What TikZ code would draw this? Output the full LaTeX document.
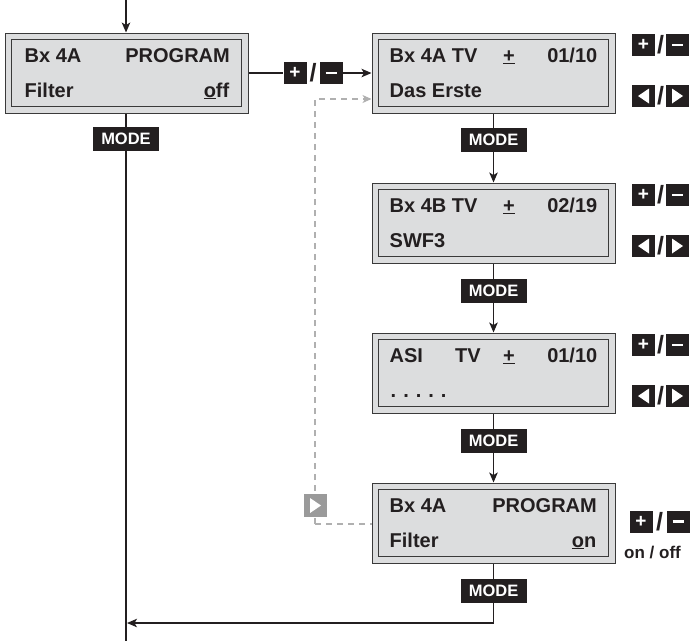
\documentclass[tikz,border=0pt]{standalone}
\usepackage{fontspec}
\setmainfont{Liberation Sans}
\usetikzlibrary{arrows.meta,backgrounds}
\definecolor{ink}{HTML}{231F20}
\definecolor{lcd}{HTML}{DCDDDE}
\definecolor{framec}{HTML}{3A3A3A}
\definecolor{dashc}{HTML}{B0B0B0}
\definecolor{playc}{HTML}{9A9A9A}
\begin{document}
\begin{tikzpicture}[x=1pt,y=-1pt,
  lcdbox/.style={draw=framec, line width=1pt, double=lcd, double distance=5.5pt, fill=lcd,
    minimum width=236.5pt, minimum height=73.5pt, inner sep=0pt, outer sep=3.75pt},
  txt/.style={font=\fontsize{20}{22}\selectfont\bfseries, text=ink, inner sep=0pt},
  modekey/.style={fill=ink, text=white, font=\fontsize{16.5}{18}\selectfont\bfseries,
    minimum width=66pt, minimum height=24pt, inner sep=0pt},
  key/.style={fill=ink, text=white, minimum width=23pt, minimum height=22pt, inner sep=0pt,
    font=\fontsize{19}{20}\selectfont\bfseries},
  slash/.style={text=ink, inner sep=0pt, font=\fontsize{25}{26}\selectfont\bfseries},
  leftkey/.style={key, path picture={\fill[white]
    ([xshift=-5.5pt]path picture bounding box.center) --
    ([shift={(5.5pt,-7.5pt)}]path picture bounding box.center) --
    ([shift={(5.5pt,7.5pt)}]path picture bounding box.center) -- cycle;}},
  rightkey/.style={key, path picture={\fill[white]
    ([xshift=5.5pt]path picture bounding box.center) --
    ([shift={(-5.5pt,-7.5pt)}]path picture bounding box.center) --
    ([shift={(-5.5pt,7.5pt)}]path picture bounding box.center) -- cycle;}},
  playkey/.style={rightkey, fill=playc, minimum height=23pt},
  conn/.style={draw=ink, line width=1.2pt},
  arr/.style={-{Stealth[length=10pt,width=8.5pt,inset=2.5pt]}},
  dashline/.style={draw=dashc, line width=1.2pt, dash pattern=on 6pt off 5pt},
]
\useasboundingbox (0,0) rectangle (693,641);

% LCD boxes
\node[lcdbox] (b1) at (126.5,73) {};
\node[lcdbox] (b2) at (493.5,73) {};
\node[lcdbox] (b3) at (493.5,223) {};
\node[lcdbox] (b4) at (493.5,373) {};
\node[lcdbox] (b5) at (493.5,523) {};

% texts box 1
\node[txt, anchor=base west] (t1a) at ([shift={(20,-11)}]b1.west) {Bx 4A};
\node[txt, anchor=base east] (t1b) at ([shift={(-18.5,-11)}]b1.east) {PROGRAM};
\node[txt, anchor=base west] (t1c) at ([shift={(20,24)}]b1.west) {Filter};
\node[txt, anchor=base east] (t1d) at ([shift={(-19,24)}]b1.east) {\underline{o}ff};

% texts box 2
\node[txt, anchor=base west] (t2a) at ([shift={(18,-11)}]b2.west) {Bx 4A TV};
\node[txt, anchor=base] (t2b) at ([shift={(15.5,-11)}]b2.center) {\underline{+}};
\node[txt, anchor=base east] (t2c) at ([shift={(-18,-11)}]b2.east) {01/10};
\node[txt, anchor=base west] (t2d) at ([shift={(18,24)}]b2.west) {Das Erste};

% texts box 3
\node[txt, anchor=base west] (t3a) at ([shift={(18,-11)}]b3.west) {Bx 4B TV};
\node[txt, anchor=base] (t3b) at ([shift={(15.5,-11)}]b3.center) {\underline{+}};
\node[txt, anchor=base east] (t3c) at ([shift={(-18,-11)}]b3.east) {02/19};
\node[txt, anchor=base west] (t3d) at ([shift={(18,24)}]b3.west) {SWF3};

% texts box 4
\node[txt, anchor=base west] (t4a) at ([shift={(18,-11)}]b4.west) {ASI};
\node[txt, anchor=base west] (t4e) at ([shift={(-38.5,-11)}]b4.center) {TV};
\node[txt, anchor=base] (t4b) at ([shift={(15.5,-11)}]b4.center) {\underline{+}};
\node[txt, anchor=base east] (t4c) at ([shift={(-18,-11)}]b4.east) {01/10};
\node[txt, anchor=base west] (t4d) at ([shift={(19,24)}]b4.west) {.\hspace{7pt}.\hspace{7pt}.\hspace{7pt}.\hspace{7pt}.};

% texts box 5
\node[txt, anchor=base west] (t5a) at ([shift={(18,-11)}]b5.west) {Bx 4A};
\node[txt, anchor=base east] (t5b) at ([shift={(-18.5,-11)}]b5.east) {PROGRAM};
\node[txt, anchor=base west] (t5c) at ([shift={(18,24)}]b5.west) {Filter};
\node[txt, anchor=base east] (t5d) at ([shift={(-19,24)}]b5.east) {\underline{o}n};

% MODE keys
\node[modekey] (m1) at (126,139) {MODE};
\node[modekey] (m2) at (493.5,139.5) {MODE};
\node[modekey] (m3) at (493.5,290.5) {MODE};
\node[modekey] (m4) at (493.5,440.5) {MODE};
\node[modekey] (m5) at (493.5,591) {MODE};

% middle +/- keys
\node[key] (kp) at (295,73) {+};
\node[slash] (ks) at (313,73) {/};
\node[key] (km) at (331,73) {\rule[-1.3pt]{11pt}{2.6pt}};

% right keys box 2
\node[key] (p2) at (643.5,45) {+};
\node[slash] (s2) at (660.5,45) {/};
\node[key] (n2) at (677.5,45) {\rule[-1.3pt]{11pt}{2.6pt}};
\node[leftkey] (l2) at (643.5,96) {};
\node[slash] (s2b) at (660.5,96) {/};
\node[rightkey] (r2) at (677.5,96) {};

% right keys box 3
\node[key] (p3) at (643.5,195) {+};
\node[slash] (s3) at (660.5,195) {/};
\node[key] (n3) at (677.5,195) {\rule[-1.3pt]{11pt}{2.6pt}};
\node[leftkey] (l3) at (643.5,246) {};
\node[slash] (s3b) at (660.5,246) {/};
\node[rightkey] (r3) at (677.5,246) {};

% right keys box 4
\node[key] (p4) at (643.5,345) {+};
\node[slash] (s4) at (660.5,345) {/};
\node[key] (n4) at (677.5,345) {\rule[-1.3pt]{11pt}{2.6pt}};
\node[leftkey] (l4) at (643.5,396) {};
\node[slash] (s4b) at (660.5,396) {/};
\node[rightkey] (r4) at (677.5,396) {};

% right keys box 5
\node[key] (p5) at (641,521.5) {+};
\node[slash] (s5) at (659.5,521.5) {/};
\node[key] (n5) at (678,521.5) {\rule[-1.3pt]{11pt}{2.6pt}};
\node[font=\fontsize{17}{18}\selectfont\bfseries, text=ink, inner sep=0pt, anchor=base] (oo) at (652.5,558) {on / off};

% dashed path + play key
\coordinate (d1) at (315,99);
\coordinate (d2) at (315,524);
\node[playkey] (pk) at (315.5,505.5) {};

\coordinate (top) at (126,0);
\coordinate (bot) at (126,641);
\coordinate (ret) at (127,623);

\begin{scope}[on background layer]
  \draw[conn,arr] (top) -- (top |- b1.north);
  \draw[conn, line width=1.7pt] (top |- b1.south) -- (bot);
  \draw[conn] (b1.east |- kp.west) -- (kp.west);
  \draw[conn,arr] (km.east) -- (b2.west |- km.east);
  \draw[conn,arr] (b2.south) -- (b3.north);
  \draw[conn,arr] (b3.south) -- (b4.north);
  \draw[conn,arr] (b4.south) -- (b5.north);
  \draw[conn,arr] (b5.south) |- (ret);
  \draw[dashline, -{Stealth[length=9pt,width=8pt,inset=2.5pt]}] (d2) -- (d1) -- (d1 -| b2.west);
  \draw[dashline] (d2) -- (d2 -| b5.west);
\end{scope}
\end{tikzpicture}
\end{document}
